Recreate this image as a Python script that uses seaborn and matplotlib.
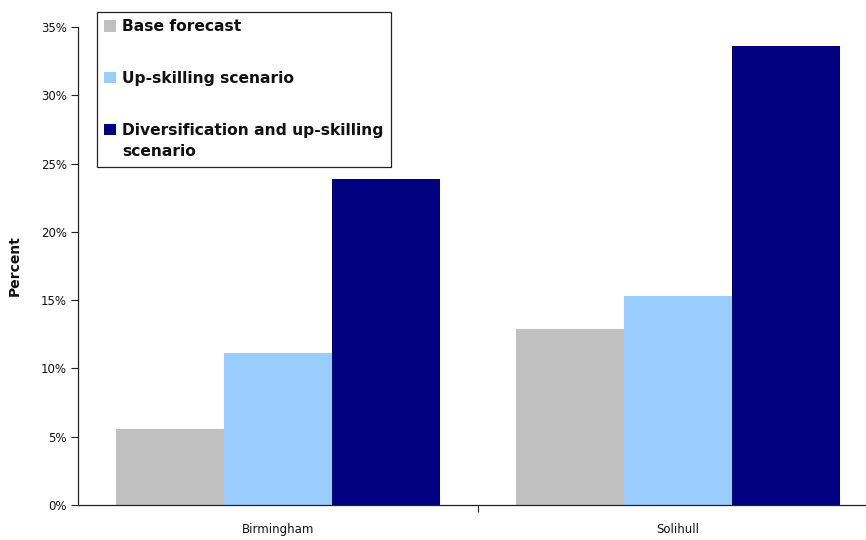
import matplotlib
matplotlib.use("Agg")
import matplotlib.pyplot as plt
from matplotlib.patches import Rectangle
from matplotlib.legend_handler import HandlerPatch
from matplotlib.ticker import FuncFormatter, FixedLocator
import seaborn as sns
import pandas as pd

# Share of employment change by area under each scenario (percent)
areas = ["Birmingham", "Solihull"]
scenarios = ["Base forecast", "Up-skilling scenario",
             "Diversification and up-skilling scenario"]
base_forecast = [5.6, 12.9]
upskilling = [11.1, 15.3]
diversification = [23.9, 33.6]
colors = ["#C0C0C0", "#99CCFF", "#000080"]
y_ticks = [0, 5, 10, 15, 20, 25, 30, 35]

rows = []
for name, vals in zip(scenarios, [base_forecast, upskilling, diversification]):
    for area, v in zip(areas, vals):
        rows.append({"Area": area, "Scenario": name, "Value": v})
df = pd.DataFrame(rows)

sns.set_style("white")
plt.rcParams["font.family"] = ["DejaVu Sans"]

W, H = 866, 540
fig = plt.figure(figsize=(W / 100, H / 100), dpi=100)
ax = fig.add_axes([78 / W, 35 / H, 800 / W, 478 / H])

sns.barplot(data=df, x="Area", y="Value", hue="Scenario", order=areas,
            hue_order=scenarios, palette=colors, width=0.81, gap=0,
            saturation=1, linewidth=0, ax=ax, legend=False)

ax.set_xlim(-0.5, 1.5)
ax.set_ylim(0, 35)
ax.yaxis.set_major_locator(FixedLocator(y_ticks))
ax.yaxis.set_major_formatter(FuncFormatter(lambda v, p: f"{v:.0f}%"))
ax.set_xlabel("")
ax.set_ylabel("Percent", fontsize=10, fontweight="bold", labelpad=14,
              color="#111111")

ax.tick_params(axis="y", which="major", left=True, direction="out",
               length=5, width=0.8, labelsize=8.5, color="#222222",
               labelcolor="#111111", pad=3)
ax.tick_params(axis="x", which="major", bottom=True, length=0,
               labelsize=8.5, labelcolor="#111111", pad=13)
ax.xaxis.set_minor_locator(FixedLocator([0.5]))
ax.tick_params(axis="x", which="minor", bottom=True, direction="out",
               length=5, width=0.8, color="#222222")

for s in ["top", "right"]:
    ax.spines[s].set_visible(False)
for s in ["left", "bottom"]:
    ax.spines[s].set_color("#222222")
    ax.spines[s].set_linewidth(0.9)


class TopAlignedSquare(HandlerPatch):
    """Legend square aligned with the first line of a wrapped label."""

    def __init__(self, shift, **kw):
        super().__init__(**kw)
        self.shift = shift

    def create_artists(self, legend, orig_handle, xdescent, ydescent,
                       width, height, fontsize, trans):
        p = Rectangle((-xdescent, -ydescent + self.shift), width, height)
        self.update_prop(p, orig_handle, legend)
        p.set_transform(trans)
        return [p]


handles = [Rectangle((0, 0), 1, 1, facecolor=c, edgecolor="none")
           for c in colors]
labels = ["Base forecast", "Up-skilling scenario",
          "Diversification and up-skilling\nscenario"]
leg = fig.legend(handles, labels, loc="upper left",
                 bbox_to_anchor=(97 / W, 1 - 12 / H),
                 bbox_transform=fig.transFigure, borderaxespad=0,
                 frameon=True, fancybox=False, shadow=False,
                 edgecolor="#222222", framealpha=1,
                 prop={"size": 11.2, "weight": "bold"},
                 handlelength=0.72, handleheight=0.72, handletextpad=0.4,
                 labelspacing=2.36, borderpad=0.48,
                 handler_map={handles[2]: TopAlignedSquare(shift=9.0)})
for t in leg.get_texts():
    t.set_linespacing(1.55)
    t.set_color("#111111")
leg.get_frame().set_linewidth(0.9)

fig.savefig("out.png", dpi=100)
